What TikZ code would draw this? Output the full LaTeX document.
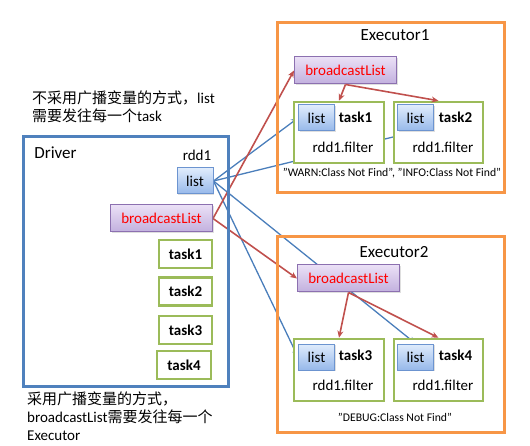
\documentclass[tikz,border=0pt]{standalone}
\usepackage{fontspec}
\setmainfont{Carlito}
\newfontfamily\cjk{Noto Sans CJK SC}
\usetikzlibrary{arrows.meta,shadows,backgrounds}
\definecolor{drvblue}{RGB}{79,129,189}
\definecolor{exorange}{RGB}{247,150,70}
\definecolor{taskgreen}{RGB}{155,187,89}
\definecolor{sendred}{RGB}{192,80,77}
\definecolor{sendblue}{RGB}{74,126,187}
\definecolor{listtop}{RGB}{224,236,252}
\definecolor{listbot}{RGB}{150,184,234}
\definecolor{listline}{RGB}{108,148,208}
\definecolor{bctop}{RGB}{234,224,246}
\definecolor{bcbot}{RGB}{194,176,222}
\definecolor{bcline}{RGB}{140,112,176}
\tikzset{
  txt/.style={font=\fontsize{15}{18}\selectfont, inner sep=0pt},
  title/.style={font=\fontsize{17}{20}\selectfont, inner sep=0pt},
  note/.style={font=\fontsize{11.7}{13}\selectfont, inner sep=0pt},
  drvbox/.style={draw=drvblue, line width=3pt},
  exbox/.style={draw=exorange, line width=3pt},
  taskbox/.style={draw=taskgreen, line width=2.5pt, fill=white},
  listbox/.style={draw=listline, line width=1pt, top color=listtop, bottom color=listbot,
    minimum width=36pt, minimum height=26pt, txt,
    drop shadow={shadow xshift=1.2pt, shadow yshift=-1.2pt, opacity=0.25}},
  bcbox/.style={draw=bcline, line width=1pt, top color=bctop, bottom color=bcbot,
    minimum width=102pt, minimum height=27pt, txt, text=red,
    drop shadow={shadow xshift=1.2pt, shadow yshift=-1.2pt, opacity=0.25}},
  sendlist/.style={draw=sendblue, line width=1.3pt, -{Stealth[length=7pt,width=6pt]}},
  sendbc/.style={draw=sendred, line width=1.6pt, -{Stealth[length=7pt,width=6pt]}},
}
\begin{document}
\begin{tikzpicture}[x=1pt,y=-1pt]
\useasboundingbox (0,0) rectangle (530,446);
% driver side
\node[drvbox, minimum width=205pt, minimum height=249pt] (driver) at (125.5,261.5) {};
\node[title] (drivername) at (55.5,153) {Driver};
\node[txt] (rdd) at (197,155) {rdd1};
\node[listbox] (dlist) at (195,181) {list};
\node[bcbox] (dbc) at (161.5,218.5) {broadcastList};
\node[taskbox, txt, font=\fontsize{15}{18}\selectfont\bfseries, minimum width=53pt, minimum height=28pt] (dt1) at (185.5,254) {task1};
\node[taskbox, txt, font=\fontsize{15}{18}\selectfont\bfseries, minimum width=53pt, minimum height=28pt] (dt2) at (185.5,291.5) {task2};
\node[taskbox, txt, font=\fontsize{15}{18}\selectfont\bfseries, minimum width=53pt, minimum height=28pt] (dt3) at (185.5,330) {task3};
\node[taskbox, txt, font=\fontsize{15}{18}\selectfont\bfseries, minimum width=54pt, minimum height=28pt] (dt4) at (184,365) {task4};
\node[txt, anchor=west, align=left] (nobc) at (32,107) {{\cjk 不采用广播变量的方式，}list\\{\cjk 需要发往每一个}task};
\node[txt, anchor=west, align=left] (withbc) at (27,416.5) {{\cjk 采用广播变量的方式，}\\broadcastList{\cjk 需要发往每一个}\\Executor};
% executor 1
\node[exbox, minimum width=227pt, minimum height=170pt] (ex1) at (390.5,108) {};
\node[title] (ex1name) at (395,35) {Executor1};
\node[bcbox] (e1bc) at (345.5,70.5) {broadcastList};
\node[taskbox, minimum width=90pt, minimum height=61pt] (e1t1) at (339,132.5) {};
\node[listbox] (e1l1) at (316.5,118) {list};
\node[txt, font=\fontsize{15}{18}\selectfont\bfseries] (e1n1) at (355.5,117) {task1};
\node[txt] (e1f1) at (343,147) {rdd1.filter};
\node[taskbox, minimum width=89pt, minimum height=61pt] (e1t2) at (438.5,132.5) {};
\node[listbox] (e1l2) at (415.5,118) {list};
\node[txt, font=\fontsize{15}{18}\selectfont\bfseries] (e1n2) at (455.5,117) {task2};
\node[txt] (e1f2) at (443,147) {rdd1.filter};
\node[note] (e1log) at (392,173) {"WARN:Class Not Find", "INFO:Class Not Find"};
% executor 2
\node[exbox, minimum width=227pt, minimum height=195pt] (ex2) at (390.5,334.5) {};
\node[title] (ex2name) at (394,252) {Executor2};
\node[bcbox] (e2bc) at (348.5,278.5) {broadcastList};
\node[taskbox, minimum width=90pt, minimum height=62pt] (e2t3) at (339,370) {};
\node[listbox] (e2l3) at (316.5,357) {list};
\node[txt, font=\fontsize{15}{18}\selectfont\bfseries] (e2n3) at (355.5,355) {task3};
\node[txt] (e2f3) at (343,385) {rdd1.filter};
\node[taskbox, minimum width=89pt, minimum height=62pt] (e2t4) at (438.5,370) {};
\node[listbox] (e2l4) at (415.5,357) {list};
\node[txt, font=\fontsize{15}{18}\selectfont\bfseries] (e2n4) at (455.5,355) {task4};
\node[txt] (e2f4) at (443,385) {rdd1.filter};
\node[note] (e2log) at (395,417) {"DEBUG:Class Not Find"};
% connectors
\begin{pgfonlayer}{background}
\draw[sendlist] (dlist.east) -- (e1l1.west);
\draw[sendlist] (dlist.east) -- (e1l2.south);
\draw[sendlist] (dlist.east) -- (e2l3.west);
\draw[sendlist] (dlist.east) -- (e2l4.north);
\draw[sendbc] (dbc.east) -- (e1bc.west);
\draw[sendbc] (dbc.east) -- (e2bc.west);
\end{pgfonlayer}
\draw[sendbc] (e1bc.south) -- (e1t1.north);
\draw[sendbc] (e1bc.south) -- (e1t2.north);
\draw[sendbc] (e2bc.south) -- (e2t3.north);
\draw[sendbc] (e2bc.south) -- (e2t4.north);
\end{tikzpicture}
\end{document}
